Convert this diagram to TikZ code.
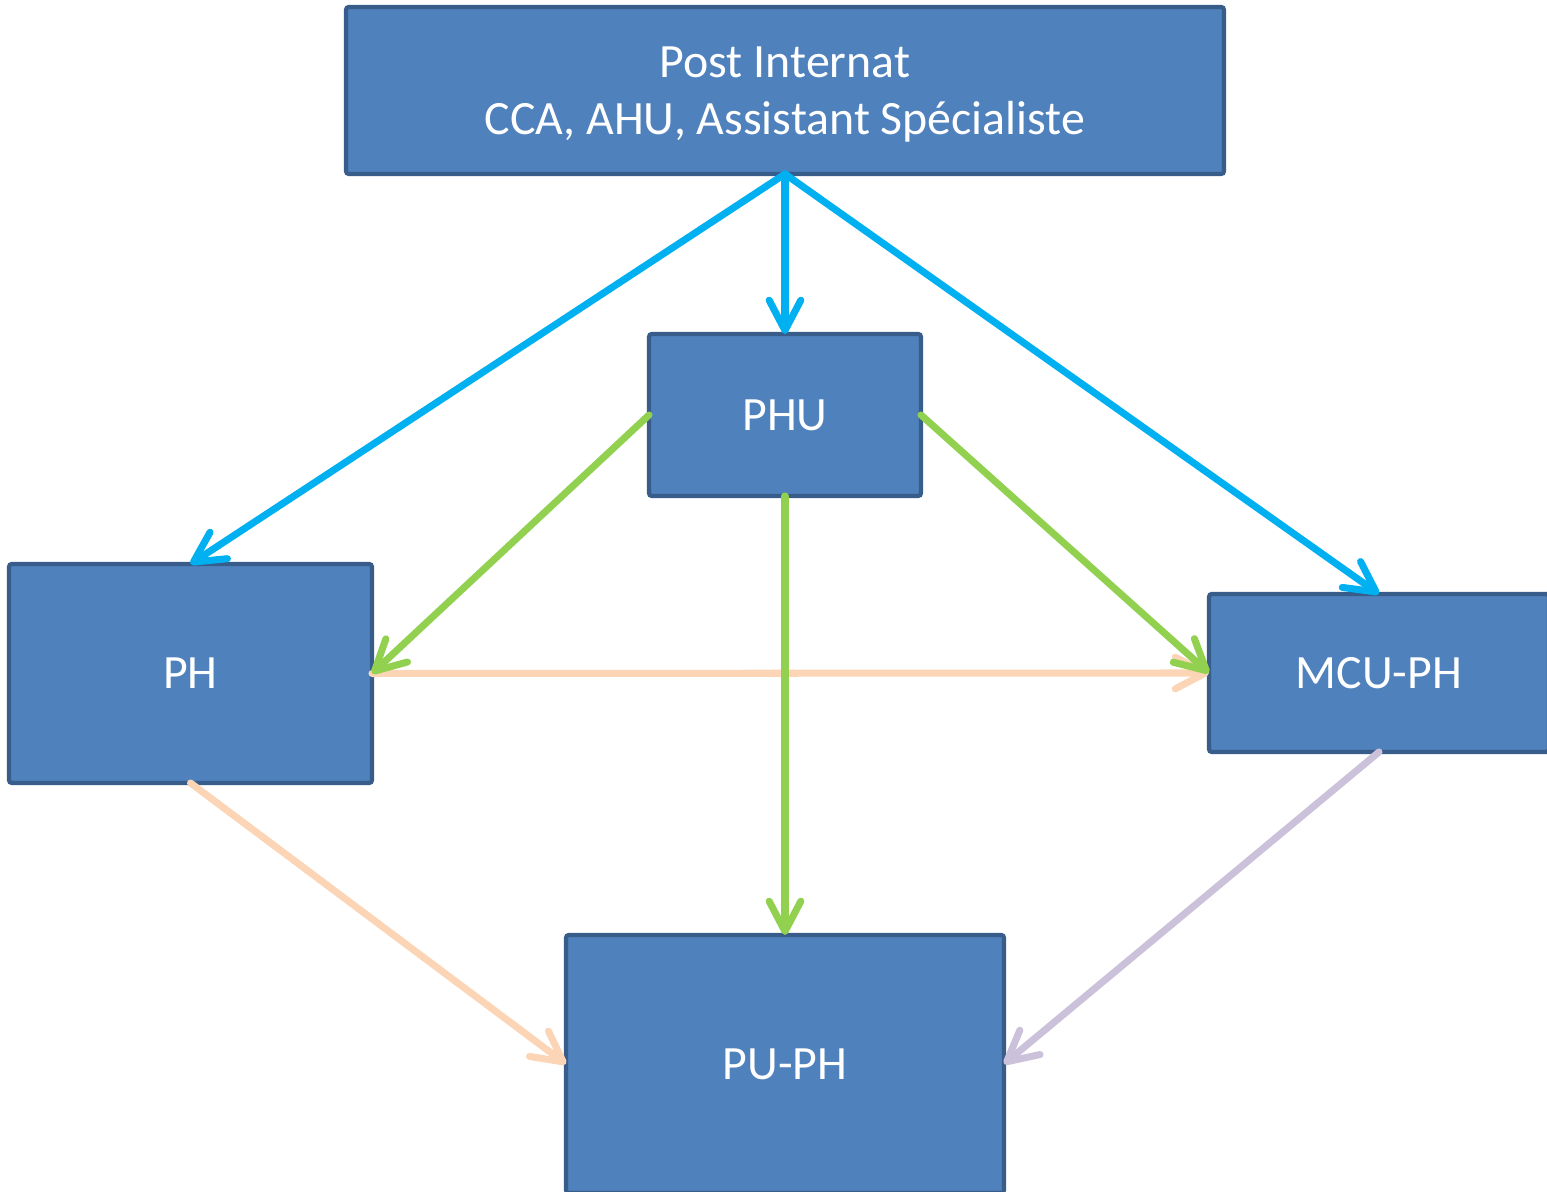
\documentclass[tikz,border=0pt]{standalone}
\usepackage{fontspec}
\setmainfont{Carlito}
\usetikzlibrary{arrows.meta}

\definecolor{boxfill}{HTML}{4F81BD}
\definecolor{boxline}{HTML}{385D8A}
\definecolor{blueline}{HTML}{00B0F0}
\definecolor{greenline}{HTML}{92D050}
\definecolor{peachline}{HTML}{FBD5B5}
\definecolor{lilacline}{HTML}{CCC1DA}

\begin{document}
\begin{tikzpicture}[x=0.01cm,y=-0.01cm,
  post/.style={draw=boxline,fill=boxfill,line width=1.2pt,rounded corners=0.8pt,
    outer sep=0pt,inner sep=0pt,text=white,align=center,
    font=\fontsize{13.6}{16.2}\selectfont},
  link/.style={line width=2pt,line cap=round,
    -{Straight Barb[length=8.6pt,width=9pt,line cap=round,line join=round]}}]

% page, pixel frame 1547 x 1192
\useasboundingbox (0,0) rectangle (1547,1192);
\clip (0,0) rectangle (1547,1192);

\def\cm{0.01cm}
% boxes
\node[post,text depth=0pt,minimum width=878*\cm,minimum height=167*\cm] (top) at (785,90.5)
  {Post Internat\\CCA, AHU, Assistant Spécialiste};
\node[post,minimum width=272*\cm,minimum height=162*\cm] (phu) at (785,415) {PHU};
\node[post,minimum width=363*\cm,minimum height=219*\cm] (ph) at (190.5,673.5) {PH};
\node[post,minimum width=340*\cm,minimum height=158*\cm] (mcu) at (1379,673) {MCU-PH};
\node[post,minimum width=438*\cm,minimum height=258*\cm] (puph) at (785,1064) {PU-PH};

% from post internat
\draw[link,blueline] (top.south) -- (ph.north);
\draw[link,blueline] (top.south) -- (phu.north);
\draw[link,blueline] (top.south) -- (mcu.north);

% from PH and MCU-PH
\draw[link,peachline] (ph.east) -- (mcu.west);
\draw[link,peachline] (ph.south) -- (puph.west);
\draw[link,lilacline] (mcu.south) -- (puph.east);

% from PHU
\draw[link,greenline] (phu.west) -- (ph.east);
\draw[link,greenline] (phu.east) -- (mcu.west);
\draw[link,greenline] (phu.south) -- (puph.north);

\end{tikzpicture}
\end{document}
